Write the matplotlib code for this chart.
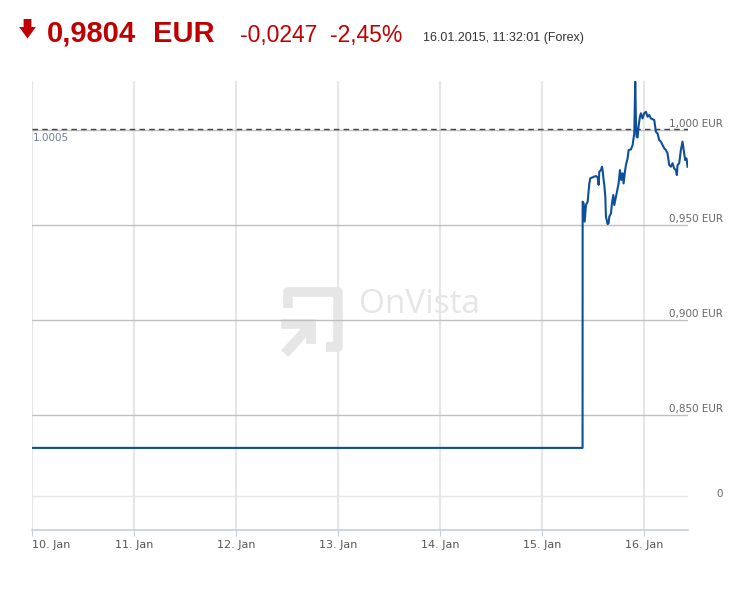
import matplotlib.pyplot as plt
from matplotlib.patches import Polygon

# Kurs CHF in EUR, Stunden ab 10.01.2015 00:00
hours = [0.0, 129.50,
         129.52, 129.76, 129.99, 130.30, 130.70, 131.09, 131.32, 131.87, 132.65, 133.04,
         133.28, 133.44, 133.83, 134.06, 134.22, 134.45, 134.61, 134.85, 135.00, 135.39,
         135.63, 135.79, 136.18, 136.41, 136.73, 136.96, 137.35, 137.98, 138.29, 138.60,
         138.92, 139.15, 139.47, 139.70, 140.09, 140.33, 140.88, 141.27, 141.66, 141.89,
         142.05, 142.21, 142.44, 142.67, 142.99, 143.22, 143.61, 144.01, 144.40, 144.79,
         145.18, 145.57, 146.36, 146.75, 147.14, 147.53, 147.92, 148.31, 148.70, 149.10,
         149.49, 149.88, 150.27, 150.66, 151.05, 151.45, 151.68, 151.84, 152.23, 152.62,
         153.01, 153.40, 153.64, 153.95, 154.19]
kurs = [0.8327, 0.8327,
        0.9623, 0.9614, 0.9518, 0.9605, 0.9623, 0.9719, 0.9746, 0.9751, 0.9758, 0.9751,
        0.9711, 0.9781, 0.9789, 0.9807, 0.9789, 0.9737, 0.9711, 0.9649, 0.9544, 0.9505,
        0.9509, 0.9544, 0.9561, 0.9614, 0.9658, 0.9605, 0.9649, 0.9719, 0.9789, 0.9737,
        0.9772, 0.9719, 0.9781, 0.9816, 0.9851, 0.9895, 0.9898, 0.9921, 0.9982, 1.0254,
        1.0053, 0.9965, 0.9961, 1.0018, 1.0070, 1.0088, 1.0061, 1.0088, 1.0096, 1.0070,
        1.0079, 1.0061, 1.0053, 0.9991, 0.9982, 0.9947, 0.9939, 0.9921, 0.9904, 0.9895,
        0.9877, 0.9816, 0.9807, 0.9825, 0.9798, 0.9789, 0.9763, 0.9816, 0.9825, 0.9895,
        0.9939, 0.9877, 0.9842, 0.9851, 0.9807]

tage = ['10. Jan', '11. Jan', '12. Jan', '13. Jan', '14. Jan', '15. Jan', '16. Jan']
y_ticks = [0.8074, 0.85, 0.90, 0.95, 1.00]
y_labels = ['0', '0,850 EUR', '0,900 EUR', '0,950 EUR', '1,000 EUR']
vortag = 1.0005

red = '#c00000'
blue = '#0e4f9c'

fig = plt.figure(figsize=(7.43, 5.89), dpi=100)

# Hintergrund-Ebene in Pixeln (Kopfzeile, Wasserzeichen)
bg = fig.add_axes([0, 0, 1, 1], zorder=0)
bg.set_xlim(0, 743)
bg.set_ylim(589, 0)
bg.axis('off')

bg.add_patch(Polygon([(23.6, 19), (31.4, 19), (31.4, 27), (35.8, 27), (27.5, 38.5),
                      (19.2, 27), (23.6, 27)], closed=True, color=red, lw=0))
bg.text(47, 42, '0,9804', fontsize=21, fontweight='bold', color=red,
        family='Liberation Sans', va='baseline')
bg.text(153, 42, 'EUR', fontsize=21, fontweight='bold', color=red,
        family='Liberation Sans', va='baseline')
bg.text(240, 42, '-0,0247', fontsize=16.5, color=red, family='Liberation Sans', va='baseline')
bg.text(330, 42, '-2,45%', fontsize=16.5, color=red, family='Liberation Sans', va='baseline')
bg.text(423, 41, '16.01.2015, 11:32:01 (Forex)', fontsize=9, color='#333333',
        family='Liberation Sans', va='baseline')

wm = '#e6e6e6'
bg.plot([287.5, 287.5, 338, 338, 326], [308, 292, 292, 347, 347], color=wm, lw=7,
        solid_joinstyle='round', solid_capstyle='butt')
bg.plot([286, 311, 311], [324, 324, 339], color=wm, lw=7, solid_joinstyle='miter')
bg.plot([288, 309], [350, 327], color=wm, lw=7)
bg.text(359, 313, 'OnVista', fontsize=24, color=wm, family='Open Sans', va='baseline')

# Chart
ax = fig.add_axes([32 / 743, 59 / 589, 656 / 743, 449 / 589], zorder=1)
ax.set_facecolor('none')
ax.set_xlim(0, 154.3)
ax.set_ylim(0.7895, 1.0258)

for i in range(len(tage)):
    ax.axvline(i * 24, color='#e6e6e6', lw=1.5, zorder=0)
for v in y_ticks:
    ax.axhline(v, color='#e6e6e6' if v < 0.84 else '#c0c0c0', lw=1, zorder=0)

ax.axhline(vortag, color='#444444', lw=1, ls=(0, (4, 3)), zorder=1)
ax.annotate('1.0005', xy=(0.002, vortag), xycoords=ax.get_yaxis_transform(),
            xytext=(0, -3), textcoords='offset points', ha='left', va='top',
            fontsize=7.5, color='#6d7f99')

ax.plot(hours, kurs, color=blue, lw=1.5, zorder=3)

for v, lbl in zip(y_ticks, y_labels):
    if lbl == '0':
        ax.annotate(lbl, xy=(1.0534, v), xycoords=ax.get_yaxis_transform(),
                    xytext=(0, 1.5), textcoords='offset points', ha='right',
                    va='center', fontsize=7.5, color='#666666')
    else:
        ax.annotate(lbl, xy=(1.0534, v), xycoords=ax.get_yaxis_transform(),
                    xytext=(0, 1), textcoords='offset points', ha='right',
                    va='bottom', fontsize=7.5, color='#666666')

ax.set_xticks([i * 24 for i in range(len(tage))])
ax.set_xticklabels(tage, fontsize=8, color='#555555')
ax.get_xticklabels()[0].set_ha('left')
ax.set_yticks([])
ax.tick_params(axis='x', length=4, color='#c0d0e0', pad=3)
for s in ['top', 'right', 'left']:
    ax.spines[s].set_visible(False)
ax.spines['bottom'].set_color('#c0d0e0')
ax.spines['bottom'].set_linewidth(1.2)

fig.savefig('out.png', dpi=100)
